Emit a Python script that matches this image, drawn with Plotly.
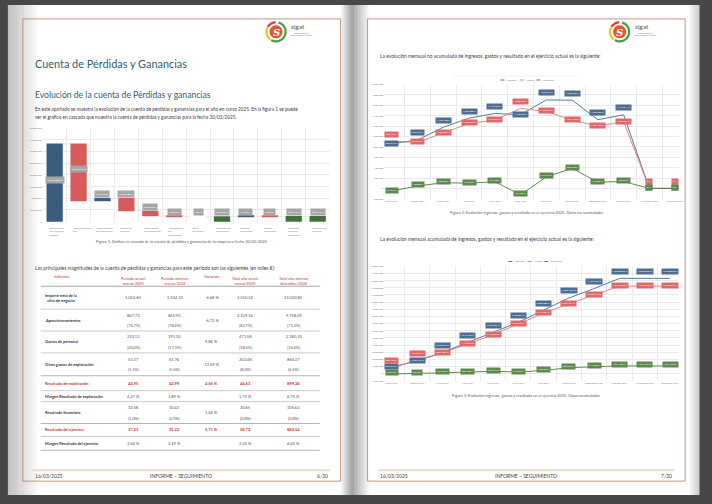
import math
import plotly.graph_objects as go

W, H = 712, 504
FONT = "Lato"

# ---------------- data ----------------
wf_categories = ["Importe neto de la cifra de negocio", "Aprovisionamientos",
                 "Otros ingresos de explotación", "Gastos de personal",
                 "Otros gastos de explotación", "Amortización del inmovilizado",
                 "Otros resultados", "Resultado de explotación", "Ingresos financieros",
                 "Gastos financieros", "Resultado antes de impuestos", "Resultado del ejercicio"]
wf_tick_text = ["Importe neto<br>de la cifra de<br>negocio", "Aprovisionamien<br>tos",
                "Otros ingresos<br>de explotación", "Gastos de<br>personal",
                "Otros gastos<br>de explotación", "Amortización<br>del<br>inmovilizado",
                "Otros<br>resultados", "Resultado de<br>explotación", "Ingresos<br>financieros",
                "Gastos<br>financieros", "Resultado<br>antes de<br>impuestos", "Resultado del<br>ejercicio"]
wf_values = [13320820, -9758690, 452760, -2180330, -866370, -68830, -100, 0, 12250, -9870, 0, 0]
wf_measures = ["relative", "relative", "relative", "relative", "relative", "relative",
               "relative", "total", "relative", "relative", "total", "total"]

months = ["Enero 2024", "Febrero 2024", "Marzo 2024", "Abril 2024", "Mayo 2024", "Junio 2024",
          "Julio 2024", "Agosto 2024", "Septiembre 2024", "Octubre 2024", "Noviembre 2024",
          "Diciembre 2024"]
ingresos_mes = [857312, 932845, 1176420, 1352908, 1443150, 1418236, 1702515, 1698430, 1322760, 1416244, 0, 0]
gastos_mes = [909152, 884845, 1067790, 1250933, 1316670, 1539586, 1480775, 1311510, 1201455, 1283354, 0, 0]
resultado_mes = [-51840, 48000, 108630, 101975, 126480, -121350, 221740, 386920, 121305, 132890, 0, 0]
ingresos_acum = [857312, 1790157, 2966577, 4319485, 5762635, 7180871, 8883386, 10581816,
                 11904576, 13320820, 13320820, 13320820]
gastos_acum = [909152, 1793997, 2861787, 4112720, 5429390, 6968976, 8449751, 9761261,
               10962716, 12246070, 12246070, 12246070]
resultado_acum = [-51840, -3840, 104790, 206765, 333245, 211895, 433635, 820555, 941860,
                  1074750, 1074750, 1074750]
series_names = ["Ingresos", "Gastos", "Resultado"]

tbl_header = ["Indicador", "Periodo actual:<br>marzo/2025", "Periodo anterior:<br>marzo/2024",
              "Variación", "Total año actual<br>marzo/2025", "Total año anterior<br>diciembre/2024"]
tbl_labels = ["Importe neto de la<br>cifra de negocio", "Aprovisionamientos", "Gastos de personal",
              "Otros gastos de explotación", "Resultado de explotación",
              "Margen Resultado de explotación", "Resultado financiero",
              "Resultado del ejercicio", "Margen Resultado del ejercicio"]
tbl_periodo_actual = ["1.052,60", "807,73", "210,13", "53,37", "44,95", "4,27 %", "10,58", "37,23", "3,54 %"]
tbl_periodo_actual_pct = ["", "(76,7%)", "(20,0%)", "(5,1%)", "", "", "(1,0%)", "", ""]
tbl_periodo_anterior = ["1.104,33", "865,90", "191,30", "61,76", "42,99", "3,89 %", "10,43", "35,22", "3,19 %"]
tbl_periodo_anterior_pct = ["", "(78,4%)", "(17,3%)", "(5,6%)", "", "", "(0,9%)", "", ""]
tbl_variacion = ["-4,68 %", "-6,72 %", "9,84 %", "-13,59 %", "4,56 %", "", "1,44 %", "5,71 %", ""]
tbl_total_actual = ["2.550,52", "2.109,16", "471,58", "203,48", "44,63", "1,75 %", "20,65", "58,72", "2,30 %"]
tbl_total_actual_pct = ["", "(82,7%)", "(18,5%)", "(8,0%)", "", "", "(0,8%)", "", ""]
tbl_total_anterior = ["13.320,82", "9.758,69", "2.180,33", "866,37", "899,26", "6,75 %", "105,63", "802,54", "6,02 %"]
tbl_total_anterior_pct = ["", "(73,3%)", "(16,4%)", "(6,5%)", "", "", "(0,8%)", "", ""]
tbl_highlight = [False, False, False, False, True, False, False, True, False]

# ---------------- helpers ----------------
def px(x): return x / W
def py(y): return 1 - y / H

shapes, annotations = [], []

def text(x, y, s, size=5, color="#404040", xanchor="left", yanchor="middle", family=FONT, **kw):
    annotations.append(dict(x=px(x), y=py(y), xref="paper", yref="paper", text=s, showarrow=False,
                            xanchor=xanchor, yanchor=yanchor,
                            font=dict(size=size, color=color, family=family), **kw))

def rect(x0, y0, x1, y1, fill, line=None, lw=0, layer="below"):
    shapes.append(dict(type="rect", xref="paper", yref="paper", x0=px(x0), x1=px(x1),
                       y0=py(y1), y1=py(y0), fillcolor=fill,
                       line=dict(width=lw, color=line or fill), layer=layer))

def hline(x0, x1, y, color, w=1, layer="below"):
    shapes.append(dict(type="line", xref="paper", yref="paper", x0=px(x0), x1=px(x1),
                       y0=py(y), y1=py(y), line=dict(color=color, width=w), layer=layer))

def mix(c0, c1, t):
    return "rgb(%d,%d,%d)" % tuple(round(a + (b - a) * t) for a, b in zip(c0, c1))

def hgrad(x0, x1, y0, y1, c0, c1, n=14):
    for i in range(n):
        t = (i + 0.5) / n
        rect(x0 + (x1 - x0) * i / n, y0, x0 + (x1 - x0) * (i + 1) / n + 0.4, y1, mix(c0, c1, t))

def arc_path(cx, cy, r, a0, a1, n=24):
    pts = []
    for i in range(n + 1):
        a = math.radians(a0 + (a1 - a0) * i / n)
        pts.append("%.5f,%.5f" % (px(cx + r * math.cos(a)), py(cy - r * math.sin(a))))
    return "M" + " L".join(pts)

def fmt_eur(v):
    return "{:,}".format(int(round(abs(v)))).replace(",", ".") + " €"

# ---------------- pages ----------------
rect(8, 4, 356, 497, "white")
rect(356, 4, 704, 497, "white")
hgrad(8, 40, 4, 497, (190, 190, 190), (255, 255, 255))
hgrad(343, 356, 4, 497, (250, 250, 250), (150, 150, 150), n=10)
hgrad(356, 372, 4, 497, (170, 170, 170), (252, 252, 252), n=10)
hgrad(694, 704, 4, 497, (250, 250, 250), (200, 200, 200), n=6)
for (bx0, bx1) in [(23, 343), (370, 690)]:
    rect(bx0, 18, bx1, 483, "rgba(0,0,0,0)", line="#b97a62", lw=0.8)

# logos
for cx in (278, 624):
    cy = 31
    for col, a0, a1 in [("#43a047", -120, 75), ("#e53935", 92, 150), ("#f4c20d", 155, 232)]:
        shapes.append(dict(type="path", xref="paper", yref="paper", path=arc_path(cx, cy, 9.6, a0, a1),
                           line=dict(color=col, width=2.2), layer="above"))
    shapes.append(dict(type="circle", xref="paper", yref="paper", x0=px(cx - 7), x1=px(cx + 7),
                       y0=py(cy + 7), y1=py(cy - 7), fillcolor="#e4572e",
                       line=dict(color="white", width=0.8), layer="above"))
    text(cx, cy + 0.5, "<b><i>S</i></b>", size=10, color="white", xanchor="center",
         family="DejaVu Serif")
    text(cx + 13, cy - 5, "sigat", size=6.5, color="#555555")
    text(cx + 13, cy + 2.5, "Sistema integral de<br>gestión contable y financiera", size=1.7,
         color="#777777")

# left page texts
text(33, 63, "Cuenta de Pérdidas y Ganancias", size=10.9, color="#2e5e72")
text(33, 95, "Evolución de la cuenta de Pérdidas y ganancias", size=8.6, color="#2e5e72")
text(33, 109, "En este apartado se muestra la evolución de la cuenta de pérdidas y ganancias para el año en curso 2025. "
     "En la figura 1 se puede", size=4.7, color="#404040")
text(33, 117, "ver el gráfico en cascada que muestra la cuenta de pérdidas y ganancias para la fecha 30/03/2025.",
     size=4.7, color="#404040")
text(183, 242, "Figura 1: Gráfico en cascada de la cuenta de pérdidas y ganancias de la empresa a fecha 30/03/2025",
     size=3.9, color="#595959", xanchor="center")
text(33, 269, "Las principales magnitudes de la cuenta de pérdidas y ganancias para este periodo son las "
     "siguientes (en miles €):", size=4.9, color="#404040")

# right page texts
text(381, 55, "La evolución mensual no acumulada de ingresos, gastos y resultado en el ejercicio actual es la siguiente:",
     size=4.9, color="#404040")
text(530, 213, "Figura 2: Evolución ingresos, gastos y resultado en el ejercicio 2025. Datos no acumulados",
     size=3.9, color="#595959", xanchor="center")
text(381, 239, "La evolución mensual acumulada de ingresos, gastos y resultado en el ejercicio actual es la siguiente:",
     size=4.9, color="#404040")
text(530, 397, "Figura 3: Evolución ingresos, gastos y resultado en el ejercicio 2025. Datos acumulados",
     size=3.9, color="#595959", xanchor="center")

# footers
for x0, x1, page in [(33, 332, "6/20"), (381, 679, "7/20")]:
    hline(x0, x1, 472, "#ead8ca", w=2)
    text(x0, 478, "16/03/2025", size=5, color="#404040")
    text((x0 + x1) / 2, 478, "INFORME – SEGUIMIENTO", size=5, color="#404040", xanchor="center")
    text(x1, 478, page, size=5, color="#404040", xanchor="right")

# ---------------- table ----------------
RED_T = "#c0392b"
col_x = [62, 134, 176, 213, 247, 296]
for i, h in enumerate(tbl_header):
    text(col_x[i], 277, h, size=3.8, color=RED_T, xanchor="center",
         yanchor="top" if "<br>" in h else "middle", yshift=2.5 if "<br>" in h else 0)
row_bounds = [287, 310, 332, 354, 377, 392, 403, 425, 438, 452]
hline(41, 322, row_bounds[0], "#a6a6a6", w=1.1)
cols = [tbl_periodo_actual, tbl_periodo_anterior, tbl_variacion, tbl_total_actual, tbl_total_anterior]
pcts = [tbl_periodo_actual_pct, tbl_periodo_anterior_pct, None, tbl_total_actual_pct, tbl_total_anterior_pct]
for r, lab in enumerate(tbl_labels):
    y0, y1 = row_bounds[r], row_bounds[r + 1]
    yc = (y0 + y1) / 2
    hl = tbl_highlight[r]
    lab_col = RED_T if hl else "#333333"
    val_col = RED_T if hl else "#505050"
    text(43, yc, "<b>%s</b>" % lab, size=3.9, color=lab_col)
    for c in range(5):
        v = cols[c][r]
        p = pcts[c][r] if pcts[c] else ""
        val_txt = "<b>%s</b>" % v if hl else v
        if p:
            text(col_x[c + 1], yc - 5, val_txt, size=4, color=val_col, xanchor="center")
            text(col_x[c + 1], yc + 5.5, p, size=4, color="#595959", xanchor="center")
        else:
            text(col_x[c + 1], yc, val_txt, size=4, color=val_col, xanchor="center")
    hline(41, 322, y1, "#b3b3b3", w=1.1 if r in (3, 6, 8) else 0.7)

# ---------------- waterfall labels ----------------
running = 0
for cat, v, m, tick in zip(wf_categories, wf_values, wf_measures, wf_tick_text):
    if m == "total":
        start, end, shown = 0, running, running
    else:
        start, end, shown = running, running + v, v
        running = end
    top, height, mid = max(start, end), abs(end - start), (start + end) / 2
    annotations.append(dict(xref="x", yref="y", x=cat, y=mid if height > 5e6 else top,
                            yshift=3 if height > 5e6 else 4, text=fmt_eur(shown), showarrow=False,
                            bgcolor="#a6a6a6", borderpad=1,
                            font=dict(size=2.6, color="white", family=FONT)))
    annotations.append(dict(xref="x", yref="paper", x=cat, y=py(224), xshift=-8, text=tick,
                            showarrow=False, xanchor="left", yanchor="top", align="left",
                            font=dict(size=2.6, color="#7f7f7f", family=FONT)))

# ---------------- line charts ----------------
C_BLUE, C_RED, C_GREEN = "#4a6b8f", "#e07b7b", "#4f7d3e"
L_BLUE, L_RED, L_GREEN = "#4d6d92", "#e06868", "#5c8a4c"

def point_labels(xa, ya, ing, gas, res):
    for i, m in enumerate(months):
        ing_high = ing[i] > gas[i]
        for val, col, shift in [(ing[i], L_BLUE, 7 if ing_high else 0.5),
                                (gas[i], L_RED, 0.5 if ing_high else 7),
                                (res[i], L_GREEN, 1)]:
            annotations.append(dict(xref=xa, yref=ya, x=m, y=val, yshift=shift, text=fmt_eur(val),
                                    showarrow=False, bgcolor=col, borderpad=0.8,
                                    font=dict(size=2.4, color="white", family=FONT)))

def legend(cx, y):
    x = cx - 22
    for name, col in zip(series_names, [C_BLUE, C_RED, C_GREEN]):
        hline(x, x + 4, y, col, w=1, layer="above")
        text(x + 5, y, name, size=2.6, color="#7f7f7f")
        x += 5 + len(name) * 1.3 + 4

point_labels("x2", "y2", ingresos_mes, gastos_mes, resultado_mes)
point_labels("x3", "y3", ingresos_acum, gastos_acum, resultado_acum)
hline(457, 582, 75.5, "#e8e8e8", w=0.6)
legend(526, 79.5)
legend(534, 262)

fig = go.Figure()
fig.add_trace(go.Waterfall(x=wf_categories, y=wf_values, measure=wf_measures, xaxis="x", yaxis="y",
                           increasing=dict(marker=dict(color="#3b5b7f")),
                           decreasing=dict(marker=dict(color="#d65c5c")),
                           totals=dict(marker=dict(color="#3f7236")),
                           connector=dict(line=dict(color="#d9d9d9", width=0.6)),
                           textposition="none", hoverinfo="skip", showlegend=False))
for xa, ya, series in [("x2", "y2", [ingresos_mes, gastos_mes, resultado_mes]),
                       ("x3", "y3", [ingresos_acum, gastos_acum, resultado_acum])]:
    for name, vals, col in zip(series_names, series, [C_BLUE, C_RED, C_GREEN]):
        fig.add_trace(go.Scatter(x=months, y=vals, mode="lines", name=name, xaxis=xa, yaxis=ya,
                                 line=dict(color=col, width=0.9), showlegend=False,
                                 hoverinfo="skip"))

grid = "#ebebeb"
tickf = dict(size=2.5, color="#808080", family=FONT)
def xax(x0, x1, show=True):
    return dict(domain=[px(x0), px(x1)], type="category", tickson="boundaries", showgrid=True,
                gridcolor=grid, gridwidth=0.6, showticklabels=show, tickfont=tickf, ticks="",
                showline=False, zeroline=False, tickangle=0, fixedrange=True)
def yax(y0, y1, rng, dt, anchor):
    return dict(domain=[py(y1), py(y0)], range=rng, dtick=dt, tickformat=",d", showgrid=True,
                gridcolor=grid, gridwidth=0.6, tickfont=tickf, zeroline=False, showline=False,
                ticks="", anchor=anchor, fixedrange=True)

fig.update_layout(
    width=W, height=H, margin=dict(l=0, r=0, t=0, b=0),
    paper_bgcolor="#474747", plot_bgcolor="rgba(0,0,0,0)",
    separators=",.", waterfallgap=0.32, showlegend=False,
    font=dict(family=FONT),
    xaxis=dict(xax(43, 332, show=False), anchor="y"),
    yaxis=yax(128, 222, [0, 16000000], 2000000, "x"),
    xaxis2=dict(xax(387, 684), anchor="y2"),
    yaxis2=yax(84, 199, [-200000, 2000000], 200000, "x2"),
    xaxis3=dict(xax(387, 684), anchor="y3"),
    yaxis3=yax(267, 382, [-1000000, 15000000], 1000000, "x3"),
    shapes=shapes, annotations=annotations,
)
fig.write_html("out.html", config={"displayModeBar": False},
               post_script="document.body.style.margin='0';document.body.style.overflow='hidden';")
